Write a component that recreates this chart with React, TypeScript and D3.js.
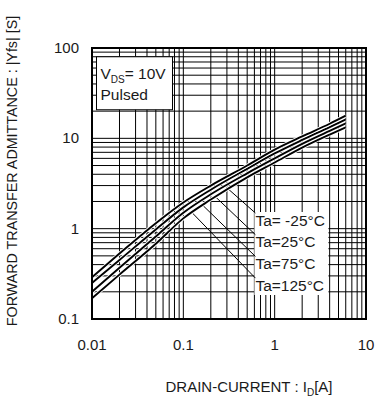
import React, { useRef, useEffect } from 'react';
import * as d3 from 'd3';

const CURRENT = [0.01, 0.02, 0.05, 0.1, 0.2, 0.5, 1, 2, 4, 6];

// |Yfs| [S] per ambient temperature
const YFS_M25 = [0.29, 0.53, 1.15, 1.95, 3.0, 5.0, 7.5, 10.5, 14.5, 17.8];
const YFS_25 = [0.25, 0.45, 0.98, 1.72, 2.7, 4.6, 6.8, 9.6, 13.3, 16.2];
const YFS_75 = [0.2, 0.37, 0.82, 1.5, 2.4, 4.1, 6.0, 8.7, 12.1, 14.6];
const YFS_125 = [0.17, 0.31, 0.68, 1.3, 2.1, 3.7, 5.4, 7.9, 11.0, 13.2];

const SERIES = [YFS_125, YFS_75, YFS_25, YFS_M25];

// temperature labels, with where each leader line touches the curve bundle
const TEMP_LABELS = ['Ta= -25°C', 'Ta=25°C', 'Ta=75°C', 'Ta=125°C'];
const LEADER_FROM = [[0.31, 2.75], [0.22, 2.3], [0.16, 1.85], [0.125, 1.5]];

const X_TICKS = [0.01, 0.1, 1, 10];
const Y_TICKS = [0.1, 1, 10, 100];

const W = 387;
const H = 401;
const FONT = '"Liberation Sans", Arial, sans-serif';
const TEXT_COLOR = '#1a1a1a';

export default function App() {
  const svgRef = useRef<SVGSVGElement>(null);

  useEffect(() => {
    const svg = d3.select(svgRef.current);
    svg.selectAll('*').remove();

    const x = d3.scaleLog().domain([0.01, 10]).range([92, 366]);
    const y = d3.scaleLog().domain([0.1, 100]).range([319, 48]);

    const [x0, x1] = x.range();
    const [y0, y1] = y.range();

    // background
    svg.append('rect').attr('width', W).attr('height', H).attr('fill', '#fff');

    // grid
    const grid = svg.append('g').attr('stroke', '#000').attr('stroke-width', 1);
    grid.selectAll('.vgrid')
      .data(x.ticks())
      .enter()
      .append('line')
      .attr('x1', d => x(d))
      .attr('x2', d => x(d))
      .attr('y1', y1)
      .attr('y2', y0);
    grid.selectAll('.hgrid')
      .data(y.ticks())
      .enter()
      .append('line')
      .attr('x1', x0)
      .attr('x2', x1)
      .attr('y1', d => y(d))
      .attr('y2', d => y(d));

    // legend box (VDS / Pulsed)
    const legX = x(0.0112);
    const legY = y(80);
    svg.append('rect')
      .attr('x', legX)
      .attr('y', legY)
      .attr('width', 76)
      .attr('height', 53)
      .attr('fill', '#fff')
      .attr('stroke', '#000')
      .attr('stroke-width', 1);
    const vds = svg.append('text')
      .attr('x', legX + 4)
      .attr('y', legY + 22)
      .style('font-family', FONT)
      .style('font-size', '15.5px')
      .style('fill', TEXT_COLOR);
    vds.append('tspan').text('V');
    vds.append('tspan').attr('dy', 4).style('font-size', '10px').text('DS');
    vds.append('tspan').attr('dy', -4).text('= 10V');
    svg.append('text')
      .attr('x', legX + 4)
      .attr('y', legY + 43)
      .style('font-family', FONT)
      .style('font-size', '15.5px')
      .style('fill', TEXT_COLOR)
      .text('Pulsed');

    // temperature label box
    const boxX = x(0.6);
    svg.append('rect')
      .attr('x', boxX)
      .attr('y', 212)
      .attr('width', 74)
      .attr('height', 83)
      .attr('fill', '#fff');

    // leader lines
    svg.selectAll('.leader')
      .data(LEADER_FROM)
      .enter()
      .append('line')
      .attr('x1', d => x(d[0]))
      .attr('y1', d => y(d[1]))
      .attr('x2', boxX + 1)
      .attr('y2', (d, i) => 213 + i * 21.7)
      .attr('stroke', '#000')
      .attr('stroke-width', 1);

    svg.selectAll('.temp-label')
      .data(TEMP_LABELS)
      .enter()
      .append('text')
      .attr('x', boxX + 1)
      .attr('y', (d, i) => 225.5 + i * 21.7)
      .style('font-family', FONT)
      .style('font-size', '15.5px')
      .style('fill', TEXT_COLOR)
      .text(d => d);

    // curves: white casing under a black line
    const line = d3.line<number>()
      .x((d, i) => x(CURRENT[i]))
      .y(d => y(d))
      .curve(d3.curveMonotoneX);

    const curves = svg.append('g').attr('fill', 'none');
    SERIES.forEach(s => {
      curves.append('path')
        .attr('d', line(s))
        .attr('stroke', '#fff')
        .attr('stroke-width', 3.6);
      curves.append('path')
        .attr('d', line(s))
        .attr('stroke', '#000')
        .attr('stroke-width', 1.9);
    });

    // frame
    svg.append('rect')
      .attr('x', x0)
      .attr('y', y1)
      .attr('width', x1 - x0)
      .attr('height', y0 - y1)
      .attr('fill', 'none')
      .attr('stroke', '#000')
      .attr('stroke-width', 2);

    // tick labels
    svg.selectAll('.xlab')
      .data(X_TICKS)
      .enter()
      .append('text')
      .attr('x', d => x(d))
      .attr('y', 350)
      .attr('text-anchor', 'middle')
      .style('font-family', FONT)
      .style('font-size', '15px')
      .style('fill', TEXT_COLOR)
      .text(d => String(d));

    svg.selectAll('.ylab')
      .data(Y_TICKS)
      .enter()
      .append('text')
      .attr('x', 79)
      .attr('y', d => y(d) + 5)
      .attr('text-anchor', 'end')
      .style('font-family', FONT)
      .style('font-size', '15px')
      .style('fill', TEXT_COLOR)
      .text(d => String(d));

    // axis titles
    const xt = svg.append('text')
      .attr('x', 249)
      .attr('y', 392)
      .attr('text-anchor', 'middle')
      .style('font-family', FONT)
      .style('font-size', '15px')
      .style('fill', TEXT_COLOR);
    xt.append('tspan').text('DRAIN-CURRENT : I');
    xt.append('tspan').attr('dy', 4).style('font-size', '10px').text('D');
    xt.append('tspan').attr('dy', -4).text('[A]');

    svg.append('text')
      .attr('transform', 'translate(17,171) rotate(-90)')
      .attr('text-anchor', 'middle')
      .style('font-family', FONT)
      .style('font-size', '14.3px')
      .style('fill', TEXT_COLOR)
      .text('FORWARD TRANSFER  ADMITTANCE : |Yfs| [S]');
  }, []);

  return (
    <svg
      ref={svgRef}
      width={W}
      height={H}
      viewBox={`0 0 ${W} ${H}`}
      style={{ position: 'absolute', left: 0, top: 0, display: 'block' }}
    />
  );
}
